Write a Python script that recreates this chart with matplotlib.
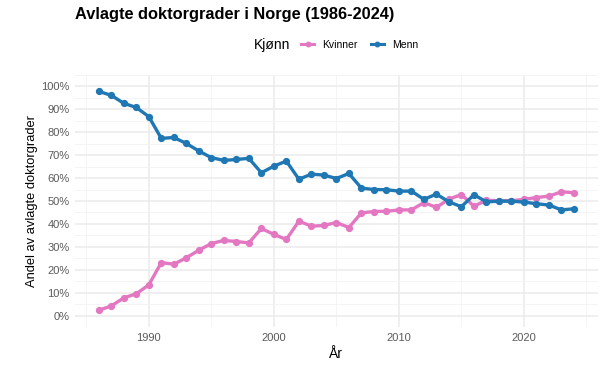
import matplotlib.pyplot as plt
import numpy as np
from matplotlib.ticker import MultipleLocator, FuncFormatter
from matplotlib.lines import Line2D
from matplotlib.offsetbox import HPacker

plt.rcParams['font.family'] = ['Liberation Sans', 'DejaVu Sans']

years = list(range(1986, 2025))
kvinner = [2.3, 4.2, 7.7, 9.5, 13.4, 23.1, 22.4, 25.2, 28.5, 31.4, 32.8, 32.3, 31.7, 38.0,
           35.4, 33.2, 41.2, 39.0, 39.3, 40.6, 38.4, 44.8, 45.4, 45.5, 46.1, 46.1, 49.3,
           47.2, 50.8, 52.8, 47.7, 50.3, 50.1, 50.1, 50.7, 51.5, 52.1, 54.0, 53.6]
menn = [97.8, 96.1, 92.6, 90.8, 86.8, 77.3, 77.7, 75.1, 71.8, 68.9, 67.7, 68.1, 68.6, 62.3,
        65.2, 67.4, 59.5, 61.7, 61.3, 59.8, 62.0, 55.6, 55.0, 54.9, 54.3, 54.3, 50.7,
        53.0, 49.6, 47.5, 52.7, 49.6, 49.9, 49.9, 49.5, 48.8, 48.2, 46.1, 46.6]

pink = '#E377C2'
blue = '#1F77B4'

fig = plt.figure(figsize=(6.09, 3.68), dpi=100)
ax = fig.add_axes([0.1232, 0.1114, 0.8583, 0.685])

ax.plot(years, np.array(kvinner) / 100, color=pink, lw=2.4, marker='o', ms=4.2, zorder=3)
ax.plot(years, np.array(menn) / 100, color=blue, lw=2.4, marker='o', ms=4.2, zorder=3)

ax.set_xlim(1984.1, 2025.9)
ax.set_ylim(-0.05, 1.05)
ax.yaxis.set_major_locator(MultipleLocator(0.1))
ax.yaxis.set_minor_locator(MultipleLocator(0.05))
ax.xaxis.set_major_locator(MultipleLocator(10))
ax.xaxis.set_minor_locator(MultipleLocator(5))
ax.yaxis.set_major_formatter(FuncFormatter(lambda v, p: f"{v*100:.0f}%"))
ax.set_xticks([1990, 2000, 2010, 2020])

ax.grid(which='major', color='#EBEBEB', lw=1.1)
ax.grid(which='minor', color='#F2F2F2', lw=0.6)
ax.set_axisbelow(True)
for s in ax.spines.values():
    s.set_visible(False)
ax.tick_params(which='both', length=0, labelsize=8, colors='#5A5A5A', pad=4)

ax.set_xlabel('År', fontsize=10, color='black', labelpad=3)
ax.set_ylabel('Andel av avlagte doktorgrader', fontsize=9.3, color='black', labelpad=2)

fig.text(75 / 609, 1 - 14 / 368, 'Avlagte doktorgrader i Norge (1986-2024)',
         fontsize=11.8, fontweight='bold', ha='left', va='center')

handles = [Line2D([], [], color=pink, lw=2.2, marker='o', ms=3.2),
           Line2D([], [], color=blue, lw=2.2, marker='o', ms=3.2)]
leg = fig.legend(handles, ['Kvinner', 'Menn'], title='Kjønn', loc='center',
                 bbox_to_anchor=(336 / 609, 1 - 45 / 368), ncol=2, frameon=False,
                 fontsize=7.5, title_fontsize=10, handlelength=1.2, handletextpad=0.8,
                 columnspacing=1.3)
# title left of the entries, like ggplot
box = leg._legend_box
box.__class__ = HPacker
box.sep = 8
box.align = 'center'

fig.savefig('out.png', dpi=100, facecolor='white')
